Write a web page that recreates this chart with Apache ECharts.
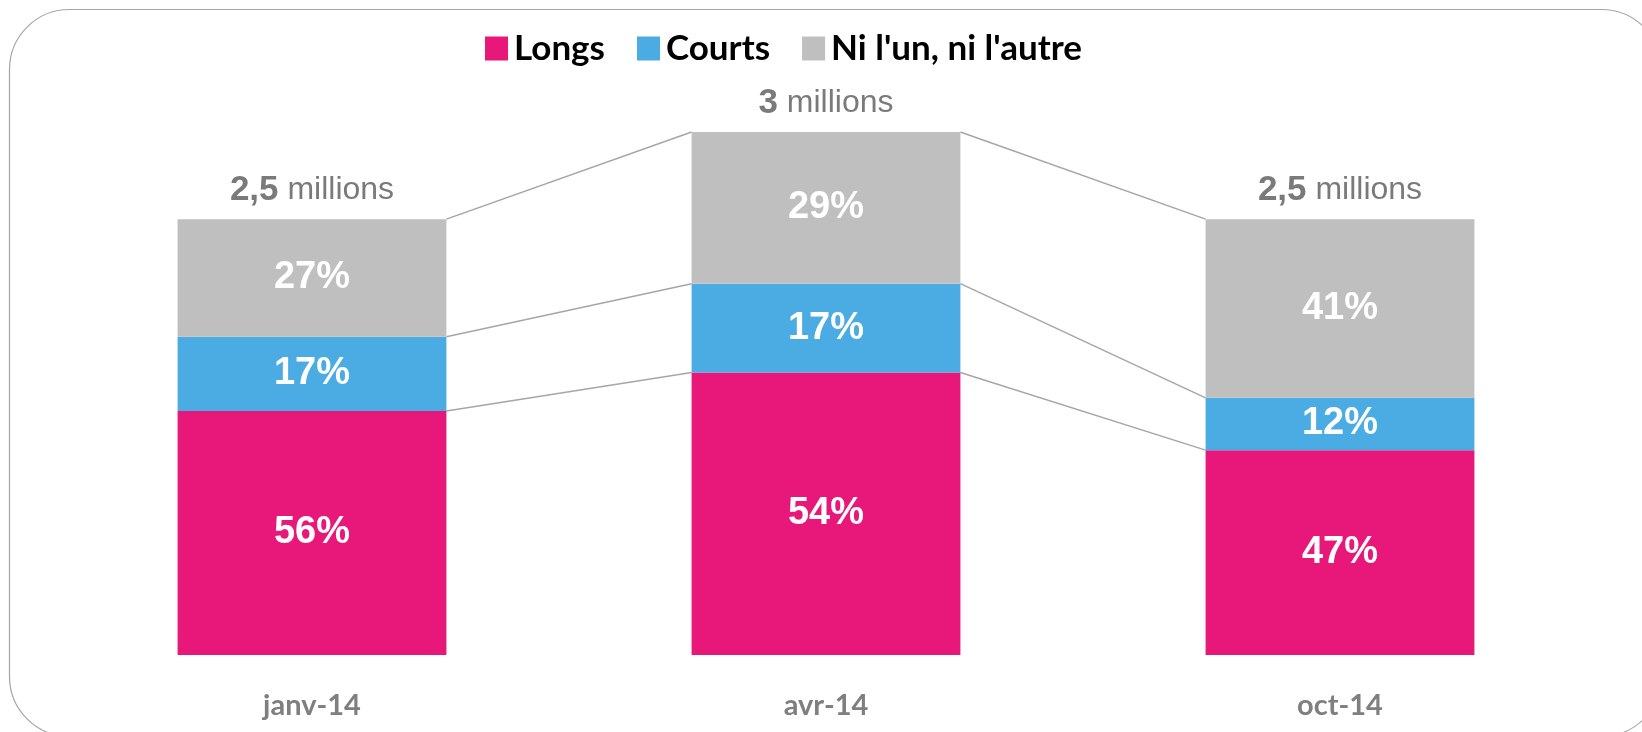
<!DOCTYPE html>
<html>
<head>
<meta charset="utf-8">
<script src="https://cdn.jsdelivr.net/npm/echarts@6/dist/echarts.min.js"></script>
<style>
html,body{margin:0;padding:0;background:#fff;}
#chart{width:1642px;height:732px;}
</style>
</head>
<body>
<div id="chart"></div>
<script>
// ---- data ----
var categories = ['janv-14', 'avr-14', 'oct-14'];
var totalsMillions = [2.5, 3, 2.5];
var totalLabels = ['2,5', '3', '2,5'];
var longsPct = [56, 54, 47];
var courtsPct = [17, 17, 12];
var autresPct = [27, 29, 41];
var seriesNames = ['Longs', 'Courts', "Ni l'un, ni l'autre"];

// ---- derived values (segment sizes in millions) ----
function seg(p) { return p.map(function (v, i) { return v * totalsMillions[i] / 100; }); }
var longsVal = seg(longsPct), courtsVal = seg(courtsPct), autresVal = seg(autresPct);
var pctArrays = [longsPct, courtsPct, autresPct];

// connector boundaries (cumulative tops of each stack level)
var levels = [
  longsVal,
  longsVal.map(function (v, i) { return v + courtsVal[i]; }),
  longsVal.map(function (v, i) { return v + courtsVal[i] + autresVal[i]; })
];
var connectorData = [];
levels.forEach(function (lv) {
  for (var i = 0; i < lv.length - 1; i++) connectorData.push([i, lv[i], lv[i + 1]]);
});

var BAR_RATIO = 0.523;
var colors = ['#E8177A', '#4BACE3', '#BFBFBF'];

var chart = echarts.init(document.getElementById('chart'));

function barSeries(name, data, idx) {
  return {
    name: name,
    type: 'bar',
    stack: 'total',
    data: data,
    barWidth: (BAR_RATIO * 100) + '%',
    itemStyle: { color: colors[idx] },
    label: {
      show: true,
      position: 'inside',
      color: '#ffffff',
      fontFamily: 'Liberation Sans, Arial, sans-serif',
      fontWeight: 'bold',
      fontSize: 38,
      formatter: function (p) { return pctArrays[idx][p.dataIndex] + '%'; }
    },
    emphasis: { disabled: true },
    z: 3
  };
}

chart.setOption({
  animation: false,
  backgroundColor: '#ffffff',
  graphic: [{
    type: 'rect',
    shape: { x: 9.5, y: 9.5, width: 1652, height: 727, r: 60 },
    style: { fill: 'none', stroke: '#A6A6A6', lineWidth: 1.2 },
    z: -10,
    silent: true
  }],
  legend: {
    data: seriesNames,
    left: 480,
    top: 26,
    itemWidth: 23,
    itemHeight: 24,
    itemGap: 32,
    icon: 'rect',
    textStyle: {
      color: '#000000',
      fontFamily: 'Lato, sans-serif',
      fontWeight: 'bold',
      fontSize: 35,
      padding: [0, 0, 0, 1]
    },
    selectedMode: false
  },
  grid: { left: 55, right: 45, top: 132, bottom: 77 },
  xAxis: {
    type: 'category',
    data: categories,
    axisLine: { show: false },
    axisTick: { show: false },
    axisLabel: {
      color: '#7F7F7F',
      fontFamily: 'Lato, sans-serif',
      fontWeight: 'bold',
      fontSize: 29,
      margin: 36
    }
  },
  yAxis: {
    type: 'value',
    min: 0,
    max: 3,
    show: false,
    splitLine: { show: false }
  },
  series: [
    barSeries(seriesNames[0], longsVal, 0),
    barSeries(seriesNames[1], courtsVal, 1),
    barSeries(seriesNames[2], autresVal, 2),
    {
      type: 'scatter',
      name: 'totals',
      data: totalsMillions,
      symbolSize: 0,
      silent: true,
      label: {
        show: true,
        position: 'top',
        distance: 11,
        formatter: function (p) { return '{b|' + totalLabels[p.dataIndex] + '}{m| millions}'; },
        rich: {
          b: { fontFamily: 'Liberation Sans, Arial, sans-serif', fontWeight: 'bold', fontSize: 35, color: '#595959' },
          m: { fontFamily: 'Liberation Sans, Arial, sans-serif', fontSize: 32, color: '#595959' }
        }
      },
      z: 5
    },
    {
      type: 'custom',
      name: 'connectors',
      data: connectorData,
      silent: true,
      renderItem: function (params, api) {
        var i = api.value(0);
        var p1 = api.coord([i, api.value(1)]);
        var p2 = api.coord([i + 1, api.value(2)]);
        var half = api.size([1, 0])[0] * BAR_RATIO / 2;
        return {
          type: 'line',
          shape: { x1: p1[0] + half, y1: p1[1], x2: p2[0] - half, y2: p2[1] },
          style: { stroke: '#A6A6A6', lineWidth: 1.5 }
        };
      },
      z: 2
    }
  ]
});
</script>
</body>
</html>
